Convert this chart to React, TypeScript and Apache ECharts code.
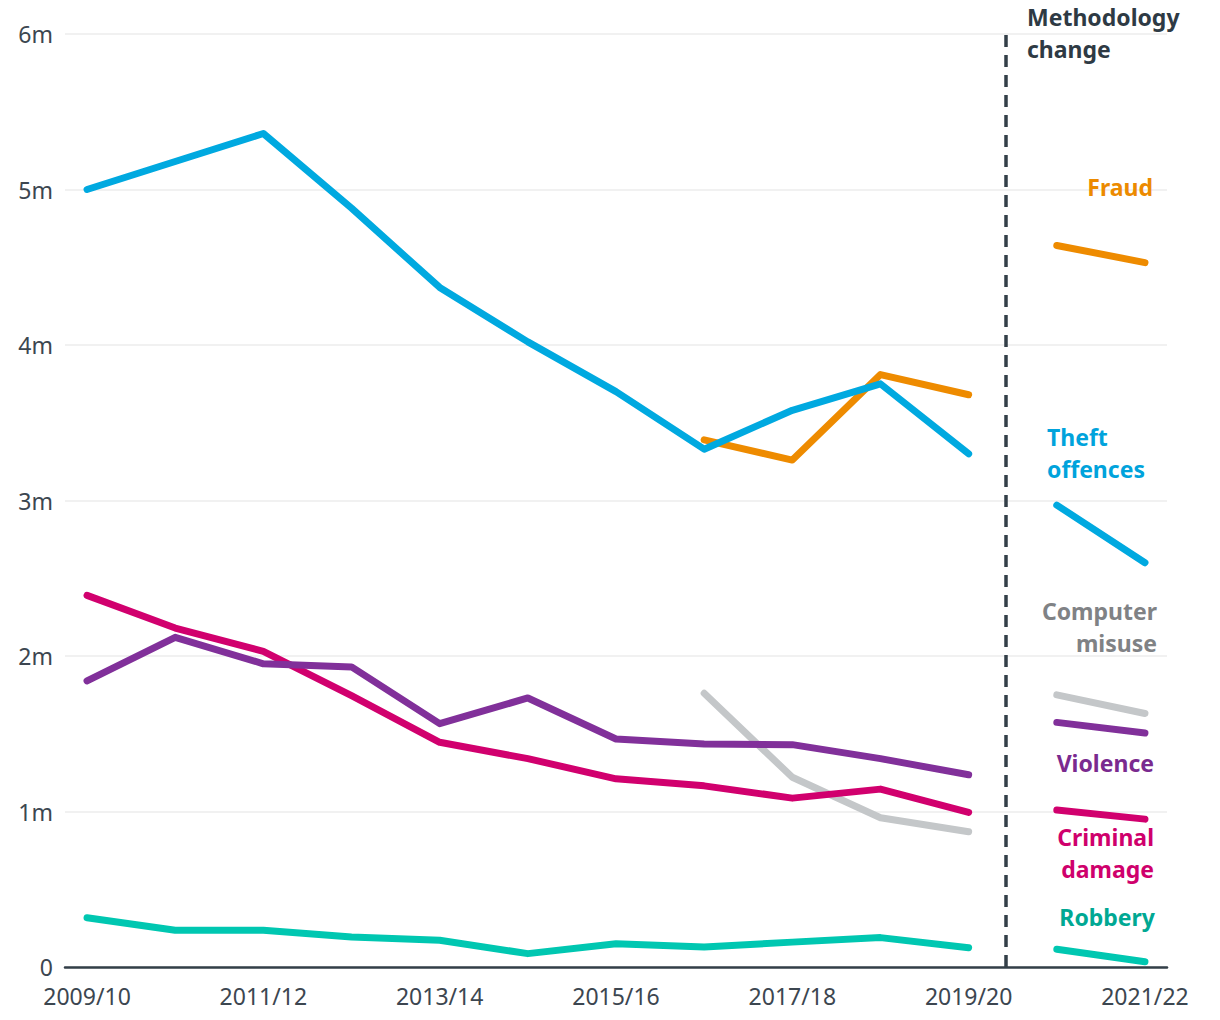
import React, { useEffect, useRef } from "react";
import * as echarts from "echarts";

// ---- Data (millions of offences) ----
const years = [
  "2009/10", "2010/11", "2011/12", "2012/13", "2013/14", "2014/15", "2015/16",
  "2016/17", "2017/18", "2018/19", "2019/20", "2020/21", "2021/22",
];
const labelYearIdx = [0, 2, 4, 6, 8, 10, 12];
const yTicks = [0, 1, 2, 3, 4, 5, 6];

const theft = [5.0, 5.18, 5.36, 4.88, 4.37, 4.02, 3.7, 3.33, 3.58, 3.75, 3.3, 2.97, 2.6];
const fraud = [null, null, null, null, null, null, null, 3.39, 3.26, 3.81, 3.68, 4.64, 4.53];
const computerMisuse = [null, null, null, null, null, null, null, 1.76, 1.22, 0.96, 0.87, 1.75, 1.63];
const violence = [1.84, 2.12, 1.95, 1.93, 1.565, 1.73, 1.466, 1.434, 1.43, 1.34, 1.236, 1.573, 1.505];
const criminalDamage = [2.39, 2.18, 2.03, 1.745, 1.445, 1.34, 1.21, 1.165, 1.086, 1.144, 0.994, 1.009, 0.951];
const robbery = [0.317, 0.236, 0.236, 0.193, 0.172, 0.086, 0.15, 0.129, 0.16, 0.189, 0.124, 0.114, 0.034];

const firstNewMethodIdx = 11; // 2020/21 onwards uses new methodology
const breakX = 10.42; // position of the "Methodology change" divider (x units)

// ---- Styles ----
const FONT = '"Noto Sans", "Open Sans", sans-serif';
const AXIS_DARK = "#333f48";
const TICK_TEXT = "#3c4650";

const seriesDefs = [
  { name: "Computer misuse", values: computerMisuse, line: "#c4c7c9" },
  { name: "Fraud", values: fraud, line: "#ee8b00" },
  { name: "Criminal damage", values: criminalDamage, line: "#d1006e" },
  { name: "Violence", values: violence, line: "#81309a" },
  { name: "Theft offences", values: theft, line: "#00a9e0" },
  { name: "Robbery", values: robbery, line: "#00c7b1" },
];

const annotations = [
  { text: "Methodology\nchange", color: "#2e3a44", x: 1027, y: 33, align: "left" },
  { text: "Fraud", color: "#ec8a00", x: 1153, y: 187, align: "right" },
  { text: "Theft\noffences", color: "#00a3dc", x: 1047, y: 453, align: "left" },
  { text: "Computer\nmisuse", color: "#808285", x: 1157, y: 627, align: "right" },
  { text: "Violence", color: "#7a2a8f", x: 1154, y: 763, align: "right" },
  { text: "Criminal\ndamage", color: "#cf006c", x: 1154, y: 853, align: "right" },
  { text: "Robbery", color: "#00a893", x: 1155, y: 917, align: "right" },
];

function pairs(values: (number | null)[], from: number, to: number) {
  const out: [number, number][] = [];
  for (let i = from; i < to; i++) {
    const v = values[i];
    if (v !== null && v !== undefined) out.push([i, v]);
  }
  return out;
}

export default function App() {
  const ref = useRef<HTMLDivElement>(null);

  useEffect(() => {
    document.body.style.margin = "0";
    if (!ref.current) return;
    const chart = echarts.init(ref.current, undefined, { renderer: "svg" });

    const series: any[] = [];
    seriesDefs.forEach((d, k) => {
      const segs = [
        pairs(d.values, 0, firstNewMethodIdx),
        pairs(d.values, firstNewMethodIdx, years.length),
      ];
      segs.forEach((data, s) => {
        const item: any = {
          name: d.name,
          type: "line",
          data,
          symbol: "none",
          showSymbol: false,
          silent: true,
          z: 3 + k,
          lineStyle: { color: d.line, width: 7, cap: "round", join: "round" },
          emphasis: { disabled: true },
        };
        if (k === 0 && s === 0) {
          item.markLine = {
            silent: true,
            symbol: ["none", "none"],
            label: { show: false },
            lineStyle: { type: [12, 8], width: 3.5, color: AXIS_DARK },
            data: [{ xAxis: breakX }],
          };
        }
        series.push(item);
      });
    });

    chart.setOption({
      animation: false,
      backgroundColor: "#ffffff",
      textStyle: { fontFamily: FONT },
      grid: { left: 65, right: 53, top: 34, bottom: 53, containLabel: false },
      xAxis: {
        type: "value",
        min: -0.25,
        max: 12.25,
        axisLine: { show: true, lineStyle: { color: AXIS_DARK, width: 2.5 } },
        axisTick: { show: false },
        splitLine: { show: false },
        axisLabel: {
          customValues: labelYearIdx,
          formatter: (v: number) => years[Math.round(v)] ?? "",
          color: TICK_TEXT,
          fontSize: 23,
          lineHeight: 20,
          fontFamily: FONT,
          margin: 19,
        },
      },
      yAxis: {
        type: "value",
        min: yTicks[0],
        max: yTicks[yTicks.length - 1],
        interval: 1,
        axisLine: { show: false },
        axisTick: { show: false },
        splitLine: { lineStyle: { color: "#ececec", width: 1.5 } },
        axisLabel: {
          formatter: (v: number) => (v === 0 ? "0" : `${v}m`),
          color: TICK_TEXT,
          fontSize: 23,
          lineHeight: 20,
          fontFamily: FONT,
          margin: 12,
        },
      },
      graphic: annotations.map((a) => ({
        type: "text",
        silent: true,
        z: 100,
        style: {
          text: a.text,
          x: a.x,
          y: a.y,
          fill: a.color,
          fontSize: 23,
          fontWeight: "bold",
          fontFamily: FONT,
          lineHeight: 32,
          align: a.align,
          verticalAlign: "middle",
          textAlign: a.align,
          textVerticalAlign: "middle",
        },
      })),
      series,
    });

    return () => chart.dispose();
  }, []);

  return <div ref={ref} style={{ width: 1220, height: 1020 }} />;
}
